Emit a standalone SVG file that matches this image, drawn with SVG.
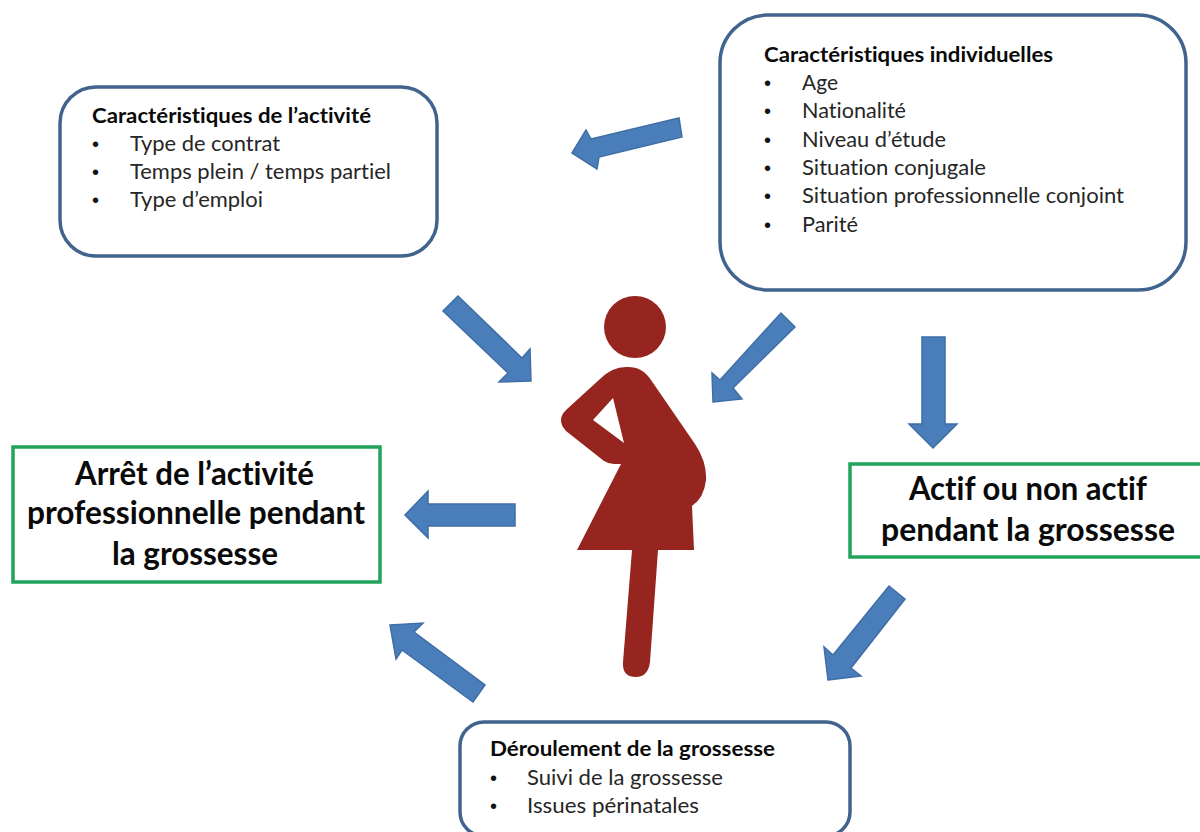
<svg xmlns="http://www.w3.org/2000/svg" width="1200" height="832" viewBox="0 0 1200 832">
<style>
.box{fill:#fff;stroke:#41648e;stroke-width:3.5}
.gbox{fill:#fff;stroke:#22a35c;stroke-width:3.5}
.arrow{fill:#4a7ebb;stroke:#3f6ea5;stroke-width:1.5}
text{font-family:"Lato","Liberation Sans",sans-serif;fill:#141414;font-variant-ligatures:none}
.h{font-size:21.5px;font-weight:700;fill:#0a0a0a}
.t{font-size:21.5px;fill:#262626}
.d{font-family:"Liberation Sans",sans-serif;font-size:20px;fill:#111}
.b{font-size:32px;font-weight:700;fill:#0a0a0a}
.body{fill:#962520}
</style>
<rect width="1200" height="832" fill="#fff"/>
<g id="connectors">
<polygon class="arrow" points="572,153 586,130 591,139 679,118 682,137 599,157 597,169"/>
<polygon class="arrow" points="531,381 499,382 508,373 443,311 458,296 522,358 530,349"/>
<polygon class="arrow" points="713,402 742,399 733,388 795,327 781,313 720,380 712,373"/>
<polygon class="arrow" points="933,448 957,424 945,424 945,337 922,337 922,424 909,424"/>
<polygon class="arrow" points="405,515 428,491 428,504 515,504 515,526 428,526 428,538"/>
<polygon class="arrow" points="828,680 861,676 851,668 905,599 889,586 833,655 824,647"/>
<polygon class="arrow" points="390,625 423,623 414,632 485,685 473,702 402,650 396,659"/>
</g>
<g id="node-activite">
<rect class="box" x="60" y="87" width="377" height="169" rx="36"/>
<text class="h" x="92" y="123" textLength="279" lengthAdjust="spacingAndGlyphs">Caractéristiques de l’activité</text>
<text class="d" x="92" y="151">•</text><text class="t" x="130" y="151" textLength="150" lengthAdjust="spacingAndGlyphs">Type de contrat</text>
<text class="d" x="92" y="179">•</text><text class="t" x="130" y="179" textLength="261" lengthAdjust="spacingAndGlyphs">Temps plein / temps partiel</text>
<text class="d" x="92" y="207">•</text><text class="t" x="130" y="207" textLength="133" lengthAdjust="spacingAndGlyphs">Type d’emploi</text>
</g>
<g id="node-individuelles">
<rect class="box" x="720" y="15" width="466" height="275" rx="48"/>
<text class="h" x="764" y="62" textLength="289" lengthAdjust="spacingAndGlyphs">Caractéristiques individuelles</text>
<text class="d" x="764" y="90">•</text><text class="t" x="802" y="90" textLength="36" lengthAdjust="spacingAndGlyphs">Age</text>
<text class="d" x="764" y="118">•</text><text class="t" x="802" y="118" textLength="104" lengthAdjust="spacingAndGlyphs">Nationalité</text>
<text class="d" x="764" y="147">•</text><text class="t" x="802" y="147" textLength="144" lengthAdjust="spacingAndGlyphs">Niveau d’étude</text>
<text class="d" x="764" y="175">•</text><text class="t" x="802" y="175" textLength="184" lengthAdjust="spacingAndGlyphs">Situation conjugale</text>
<text class="d" x="764" y="203">•</text><text class="t" x="802" y="203" textLength="322" lengthAdjust="spacingAndGlyphs">Situation professionnelle conjoint</text>
<text class="d" x="764" y="232">•</text><text class="t" x="802" y="232" textLength="56" lengthAdjust="spacingAndGlyphs">Parité</text>
</g>
<g id="node-arret">
<rect class="gbox" x="13" y="447" width="367" height="135"/>
<text class="b" x="75" y="485" textLength="239" lengthAdjust="spacingAndGlyphs">Arrêt de l’activité</text>
<text class="b" x="27" y="524" textLength="338" lengthAdjust="spacingAndGlyphs">professionnelle pendant</text>
<text class="b" x="112" y="565" textLength="166" lengthAdjust="spacingAndGlyphs">la grossesse</text>
</g>
<g id="node-actif">
<rect class="gbox" x="850" y="464" width="352" height="93"/>
<text class="b" x="909" y="500" textLength="238" lengthAdjust="spacingAndGlyphs">Actif ou non actif</text>
<text class="b" x="881" y="541" textLength="294" lengthAdjust="spacingAndGlyphs">pendant la grossesse</text>
</g>
<g id="node-deroulement">
<rect class="box" x="460" y="722" width="390" height="114" rx="24"/>
<text class="h" x="490" y="756" textLength="285" lengthAdjust="spacingAndGlyphs">Déroulement de la grossesse</text>
<text class="d" x="490" y="785">•</text><text class="t" x="527" y="785" textLength="196" lengthAdjust="spacingAndGlyphs">Suivi de la grossesse</text>
<text class="d" x="490" y="813">•</text><text class="t" x="527" y="813" textLength="172" lengthAdjust="spacingAndGlyphs">Issues périnatales</text>
</g>
<g id="node-figure">
<circle class="body" cx="635" cy="327" r="31"/>
<path class="body" fill-rule="evenodd" d="M577,550 L621,464 L614,464 Q609,464 604,461 L566,431 Q556,420 566,410 L600,379 Q612,367 626,367 Q642,366 651,380 L695,444 Q707,462 706,480 Q704,498 692,506 L694,550 L658,550 L650,662 Q648,677 636,677 Q622,677 623,662 L632,550 Z M613,398 L593,420 L624,443 Z"/>
</g>
</svg>
